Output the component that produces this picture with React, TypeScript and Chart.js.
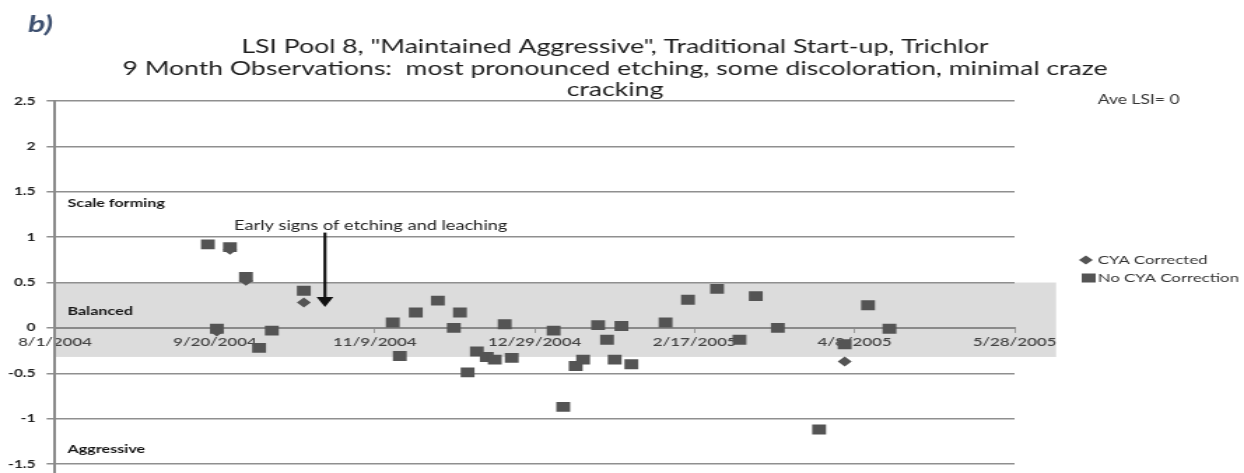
import React, { useEffect, useRef } from 'react';
import { Chart, registerables } from 'chart.js';

Chart.register(...registerables);

// ---------- data ----------
const xTickDays = [0, 50, 100, 150, 200, 250, 300];
const xTickLabels = ['8/1/2004', '9/20/2004', '11/9/2004', '12/29/2004', '2/17/2005', '4/8/2005', '5/28/2005'];
const yTickValues = [-2, -1.5, -1, -0.5, 0, 0.5, 1, 1.5, 2, 2.5];

// days since 8/1/2004
const noCyaDays = [47.8, 50.6, 54.7, 59.7, 63.8, 67.8, 77.8, 105.6, 107.8, 112.8, 119.7, 124.7, 126.6, 129.0, 131.9, 135.0, 137.5, 140.6, 142.8, 155.9, 158.9, 162.8, 165.1, 169.8, 172.6, 175.0, 177.1, 180.2, 190.9, 197.9, 207.0, 214.0, 219.1, 226.0, 238.9, 246.9, 254.2, 260.9];
const noCyaValues = [0.92, -0.01, 0.89, 0.56, -0.22, -0.03, 0.41, 0.06, -0.31, 0.17, 0.30, 0.00, 0.17, -0.49, -0.26, -0.32, -0.35, 0.04, -0.33, -0.03, -0.87, -0.42, -0.35, 0.03, -0.13, -0.35, 0.02, -0.40, 0.06, 0.31, 0.43, -0.13, 0.35, 0.00, -1.12, -0.18, 0.25, -0.01];
const cyaDays = [50.6, 54.7, 59.7, 77.8, 246.9];
const cyaValues = [-0.04, 0.86, 0.52, 0.28, -0.37];

const seriesNames = ['CYA Corrected', 'No CYA Correction'];
const titleLines = [
  'LSI Pool 8, "Maintained Aggressive", Traditional Start-up, Trichlor',
  '9 Month Observations:  most pronounced etching, some discoloration, minimal craze',
  'cracking',
];
const zoneLabels = ['Scale forming', 'Balanced', 'Aggressive'];
const zoneLabelValues = [1.37, 0.18, -1.34];
const balancedTop = 0.5;
const balancedBottom = -0.32;
const bandEndDay = 313;
const noteText = 'Early signs of etching and leaching';
const noteDay = 98.7;
const noteValue = 1.13;
const arrowDay = 84.4;
const arrowFrom = 1.05;
const arrowTo = 0.23;
const aveText = 'Ave LSI= 0';

// ---------- layout ----------
const W = 889;
const H = 524;
const S = 1244 / W;
const FONT = 'Lato, "Open Sans", sans-serif';

const decorPlugin = {
  id: 'decor',
  beforeDraw(chart: any) {
    const { ctx, chartArea, scales } = chart;
    const x = scales.x, y = scales.y;
    const top = y.getPixelForValue(balancedTop);
    const bot = y.getPixelForValue(balancedBottom);
    const right = x.getPixelForValue(bandEndDay);
    ctx.save();
    ctx.fillStyle = '#dcdcdc';
    ctx.fillRect(chartArea.left, top, right - chartArea.left, bot - top);
    ctx.restore();
  },
  afterDraw(chart: any) {
    const { ctx, chartArea, scales } = chart;
    const x = scales.x, y = scales.y;
    ctx.save();
    // panel letter
    ctx.fillStyle = '#3e5070';
    ctx.font = `italic bold 23px ${FONT}`;
    ctx.textAlign = 'left';
    ctx.textBaseline = 'middle';
    ctx.fillText('b)', 20, 25);

    // title
    ctx.fillStyle = '#1e1e1e';
    ctx.font = `19px ${FONT}`;
    ctx.textAlign = 'center';
    titleLines.forEach((t, i) => ctx.fillText(t, W / 2 - 5, 47 + i * 21.5));

    // zone labels
    ctx.font = `bold 11.5px ${FONT}`;
    ctx.textAlign = 'left';
    ctx.fillStyle = '#151515';
    zoneLabels.forEach((t, i) => ctx.fillText(t, chartArea.left + 9, y.getPixelForValue(zoneLabelValues[i])));

    // note + arrow
    ctx.font = `13px ${FONT}`;
    ctx.fillStyle = '#222';
    ctx.textAlign = 'center';
    ctx.fillText(noteText, x.getPixelForValue(noteDay), y.getPixelForValue(noteValue));
    const ax = x.getPixelForValue(arrowDay);
    const y1 = y.getPixelForValue(arrowFrom);
    const y2 = y.getPixelForValue(arrowTo);
    ctx.strokeStyle = '#111';
    ctx.lineWidth = 2.2;
    ctx.beginPath();
    ctx.moveTo(ax, y1);
    ctx.lineTo(ax, y2 - 6);
    ctx.stroke();
    ctx.fillStyle = '#111';
    ctx.beginPath();
    ctx.moveTo(ax - 6, y2 - 10);
    ctx.lineTo(ax + 6, y2 - 10);
    ctx.lineTo(ax, y2);
    ctx.closePath();
    ctx.fill();

    // Ave LSI
    ctx.fillStyle = '#333';
    ctx.font = `12.5px ${FONT}`;
    ctx.textAlign = 'left';
    ctx.fillText(aveText, 784.5, 100);

    // legend
    const ds = chart.data.datasets;
    ctx.font = `12px ${FONT}`;
    ctx.fillStyle = ds[0].backgroundColor;
    ctx.beginPath();
    ctx.moveTo(771, 260);
    ctx.lineTo(776, 255.5);
    ctx.lineTo(781, 260);
    ctx.lineTo(776, 264.5);
    ctx.closePath();
    ctx.fill();
    ctx.fillStyle = ds[1].backgroundColor;
    ctx.fillRect(773, 273.5, 10, 9);
    ctx.fillStyle = '#333';
    ctx.fillText(seriesNames[0], 784.5, 260);
    ctx.fillText(seriesNames[1], 784.5, 278);
    ctx.restore();
  },
};

export default function App() {
  const ref = useRef<HTMLCanvasElement>(null);
  useEffect(() => {
    if (!ref.current) return;
    const chart = new Chart(ref.current, {
      type: 'scatter',
      data: {
        datasets: [
          {
            label: seriesNames[0],
            data: cyaDays.map((d, i) => ({ x: d, y: cyaValues[i] })),
            backgroundColor: '#545454',
            borderWidth: 0,
            pointStyle: 'rectRot',
            pointRadius: 5,
            pointHoverRadius: 5,
          },
          {
            label: seriesNames[1],
            data: noCyaDays.map((d, i) => ({ x: d, y: noCyaValues[i] })),
            backgroundColor: '#545454',
            borderWidth: 0,
            pointStyle: 'rect',
            pointRadius: 7,
            pointHoverRadius: 7,
          },
        ],
      },
      options: {
        responsive: false,
        animation: false,
        events: [],
        layout: { padding: { top: 101, left: 0, right: W - 725, bottom: 8 } },
        plugins: {
          legend: { display: false },
          tooltip: { enabled: false },
          title: { display: false },
        },
        scales: {
          x: {
            type: 'linear',
            position: { y: 0 } as any,
            min: 0,
            max: 300,
            afterBuildTicks: (scale: any) => {
              scale.ticks = xTickDays.map((v) => ({ value: v }));
            },
            ticks: {
              autoSkip: false,
              maxRotation: 0,
              padding: 3,
              color: '#444',
              font: { family: FONT, size: 12, weight: '600' },
              callback: (v: any) => xTickLabels[xTickDays.indexOf(Number(v))] ?? '',
            },
            grid: { drawOnChartArea: false, drawTicks: true, tickLength: 4, color: '#999' },
            border: { display: true, color: '#8a8a8a', width: 2 },
          },
          y: {
            type: 'linear',
            min: -2,
            max: 2.5,
            afterBuildTicks: (scale: any) => {
              scale.ticks = yTickValues.map((v) => ({ value: v }));
            },
            afterFit: (scale: any) => {
              scale.width = 39.3;
            },
            ticks: {
              padding: 8,
              color: '#222',
              font: { family: FONT, size: 11, weight: 'bold' },
              callback: (v: any) => String(v),
            },
            grid: { color: '#8f8f8f', lineWidth: 1.5, tickLength: 6 },
            border: { display: true, color: '#8a8a8a', width: 2 },
          },
        },
      },
      plugins: [decorPlugin],
    });
    return () => chart.destroy();
  }, []);

  return (
    <div style={{ position: 'absolute', left: 0, top: 0, width: 1244, height: 473, overflow: 'hidden', background: '#fff' }}>
      <div style={{ width: W, height: H, transform: `scaleX(${S})`, transformOrigin: '0 0' }}>
        <canvas ref={ref} width={W} height={H} style={{ width: W, height: H, display: 'block' }} />
      </div>
    </div>
  );
}
